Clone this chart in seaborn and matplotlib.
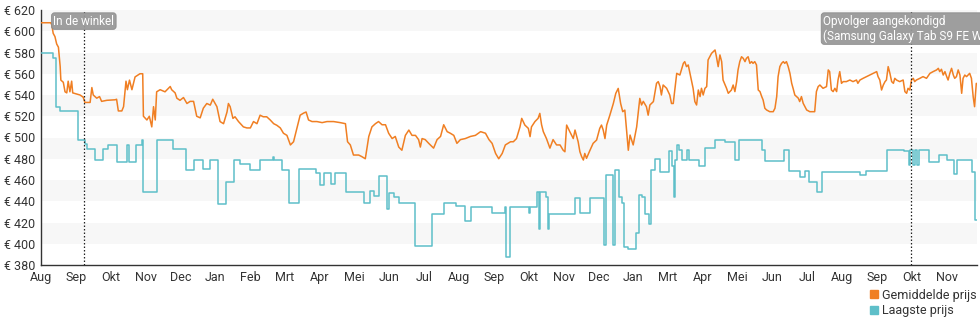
import matplotlib
matplotlib.use("Agg")
import matplotlib.pyplot as plt
from matplotlib.lines import Line2D
import seaborn as sns
import pandas as pd

# Month tick labels (one tick per month slot on the time axis)
month_labels = ["Aug", "Sep", "Okt", "Nov", "Dec", "Jan", "Feb", "Mrt", "Apr", "Mei",
                "Jun", "Jul", "Aug", "Sep", "Okt", "Nov", "Dec", "Jan", "Mrt", "Apr",
                "Mei", "Jun", "Jul", "Aug", "Sep", "Okt", "Nov"]

# Average price (time in month slots since the first tick, price in euro)
avg_t = [0.00, 0.28, 0.31, 0.35, 0.40, 0.45, 0.50, 0.55, 0.57, 0.64, 0.69, 0.74, 0.78, 0.83,
         0.88, 0.91, 1.02, 1.12, 1.21, 1.26, 1.41, 1.46, 1.50, 1.60, 1.68, 1.74, 1.89, 2.13,
         2.17, 2.22, 2.32, 2.37, 2.44, 2.48, 2.54, 2.61, 2.70, 2.84, 2.92, 2.94, 3.04, 3.11,
         3.18, 3.23, 3.28, 3.32, 3.42, 3.56, 3.71, 3.75, 3.85, 3.90, 3.99, 4.09, 4.19, 4.28,
         4.38, 4.47, 4.57, 4.66, 4.76, 4.86, 4.93, 5.05, 5.14, 5.24, 5.34, 5.38, 5.43, 5.51,
         5.57, 5.67, 5.81, 5.91, 6.01, 6.10, 6.20, 6.29, 6.38, 6.48, 6.58, 6.68, 6.77, 6.87,
         6.96, 7.06, 7.16, 7.25, 7.35, 7.44, 7.54, 7.61, 7.68, 7.78, 7.92, 8.07, 8.21, 8.40,
         8.59, 8.74, 8.80, 8.88, 8.97, 9.12, 9.21, 9.31, 9.41, 9.50, 9.60, 9.69, 9.79, 9.89,
         9.98, 10.08, 10.17, 10.27, 10.36, 10.46, 10.56, 10.65, 10.75, 10.84, 10.89, 10.94,
         11.03, 11.13, 11.27, 11.37, 11.47, 11.56, 11.66, 11.75, 11.85, 11.94, 12.04, 12.18,
         12.33, 12.47, 12.62, 12.76, 12.86, 12.95, 13.05, 13.14, 13.24, 13.33, 13.48, 13.56,
         13.65, 13.75, 13.80, 13.89, 13.99, 14.04, 14.08, 14.18, 14.27, 14.32, 14.37, 14.42,
         14.51, 14.61, 14.70, 14.80, 14.90, 14.99, 15.04, 15.09, 15.18, 15.28, 15.33, 15.42,
         15.47, 15.52, 15.57, 15.61, 15.66, 15.76, 15.85, 15.95, 16.04, 16.09, 16.14, 16.19,
         16.24, 16.33, 16.43, 16.50, 16.57, 16.64, 16.70, 16.76, 16.81, 16.86, 16.91, 17.00,
         17.10, 17.19, 17.24, 17.29, 17.38, 17.43, 17.48, 17.58, 17.62, 17.67, 17.72, 17.77,
         17.81, 17.86, 17.96, 18.05, 18.10, 18.15, 18.25, 18.34, 18.44, 18.48, 18.53, 18.58,
         18.63, 18.67, 18.72, 18.77, 18.82, 18.87, 18.92, 18.96, 19.01, 19.06, 19.11, 19.15,
         19.20, 19.25, 19.30, 19.35, 19.39, 19.44, 19.49, 19.54, 19.58, 19.68, 19.73, 19.82,
         19.87, 19.92, 19.97, 20.01, 20.06, 20.11, 20.16, 20.21, 20.25, 20.30, 20.35, 20.40,
         20.44, 20.49, 20.54, 20.59, 20.64, 20.69, 20.73, 20.78, 20.83, 20.92, 21.02, 21.07,
         21.12, 21.16, 21.21, 21.26, 21.31, 21.35, 21.40, 21.45, 21.50, 21.55, 21.59, 21.64,
         21.69, 21.74, 21.78, 21.83, 21.88, 21.93, 21.98, 22.07, 22.21, 22.26, 22.31, 22.36,
         22.45, 22.55, 22.60, 22.64, 22.69, 22.74, 22.79, 22.84, 22.88, 22.93, 22.98, 23.03,
         23.12, 23.22, 23.31, 23.41, 23.45, 23.51, 23.60, 23.70, 23.79, 23.89, 23.99, 24.03,
         24.08, 24.13, 24.18, 24.23, 24.27, 24.32, 24.37, 24.42, 24.47, 24.51, 24.56, 24.65,
         24.75, 24.80, 24.85, 24.89, 24.94, 24.99, 25.04, 25.08, 25.13, 25.23, 25.32, 25.42,
         25.52, 25.61, 25.71, 25.76, 25.80, 25.85, 25.90, 25.95, 26.00, 26.04, 26.09, 26.14,
         26.19, 26.23, 26.28, 26.33, 26.38, 26.43, 26.47, 26.52, 26.57, 26.66, 26.71, 26.76,
         26.80, 26.85]
avg_price = [608, 608, 606, 598, 595, 588, 585, 567, 554, 552, 543, 542, 553, 543,
             553, 542, 541, 540, 538, 533, 533, 547, 540, 537, 538.5, 534, 535, 535.5,
             536, 525, 525, 529, 553, 545, 554, 545, 557, 560, 560, 520, 516.5, 520,
             510, 529, 516.5, 543, 545, 543, 548, 545, 542, 537, 535, 537.6, 532, 534,
             534, 520, 518.5, 527.6, 532, 530.5, 536, 529, 515, 513, 524, 532, 529, 518,
             519.5, 515, 510, 509, 509, 515, 513, 521, 519.5, 519.5, 516.5, 513, 511.5, 509,
             504, 502, 493, 496, 509, 521, 523, 524, 516.5, 515, 515, 514, 515, 515,
             514, 513, 496, 493, 483.5, 483.5, 482, 480, 501, 510, 513, 515, 512, 512,
             504, 499, 501, 491, 488, 502, 507, 502, 502, 498, 491, 499,
             498, 494.5, 490, 498, 501, 512, 505.5, 504, 502, 494.5, 498, 499,
             501, 502, 505.5, 504, 498, 494.5, 485, 480, 485, 493, 496, 496,
             499, 510, 518, 511.7, 508.6, 500.8, 510, 515, 518, 522.7, 512, 505.5,
             499, 490, 498, 493, 493, 488, 486.6, 511.7, 505.5, 499, 507, 496,
             486.6, 482, 478.8, 485, 480.4, 488, 494.5, 497.6, 508.6, 511.7, 507, 499,
             511.7, 521, 532, 541.5, 546.2, 532, 524.3, 525.8, 507, 488, 502.3, 493,
             510, 536.8, 530.6, 534, 529, 521, 530.6, 533.8, 541.6, 551, 552.6, 548,
             540, 549.4, 546.3, 540, 532, 532, 560.4, 558.8, 569.8, 571.4, 566.7, 568.3,
             560.4, 554.1, 546.3, 533.8, 530.6, 544.7, 538.5, 546.3, 540, 546.3, 547.9, 573,
             576, 579.2, 580.8, 582.4, 576, 566.7, 577.7, 571.4, 554.1, 546.3, 541.6, 544.7,
             549.4, 543.2, 552.6, 563.6, 571.4, 576, 574.5, 571.4, 574.5, 576, 569.8, 571.4,
             569.8, 571.4, 568.3, 544.7, 543.2, 538.5, 535.3, 527.5, 525.9, 524.3, 524.3, 527.5,
             538.5, 557.3, 566.7, 569.8, 571.4, 569.8, 571.4, 566.7, 560.4, 551, 546.3, 540,
             538.5, 537, 533.8, 538.5, 532.2, 529, 525.9, 524.3, 524.3, 543.2, 547.9, 549.4,
             546.3, 547.9, 563.6, 562, 544.7, 543.2, 546.3, 543.2, 554.1, 562, 551, 552.6,
             552.6, 554.1, 552.6, 554.1, 551, 554.1, 555.7, 557.3, 558.8, 560.4, 562, 557.3,
             554.1, 544.7, 549.4, 552.6, 554.1, 566.7, 560.4, 552.6, 551, 555.7, 554.1, 552.6,
             554.1, 543.2, 541.6, 546.3, 544.7, 554.1, 555.7, 552.6, 554.1, 555.7, 557.3, 555.7,
             560.4, 562, 563.6, 565.1, 562, 564.2, 558.8, 562, 557.3, 554.1, 560.4, 565.1,
             558.8, 555.7, 557.3, 563.6, 558.8, 541.6, 555.7, 558.8, 557.3, 560.4, 555.7, 538.5,
             529, 551]

# Lowest price: each entry is the moment the price changed and the new price
low_t = [0.00, 0.34, 0.43, 0.55, 1.07, 1.25, 1.31, 1.55, 1.77, 1.93, 2.17, 2.48, 2.52, 2.72,
         2.89, 2.94, 3.32, 3.80, 4.16, 4.40, 4.64, 4.86, 5.08, 5.32, 5.53, 5.72, 5.99, 6.29,
         6.66, 6.70, 6.92, 7.11, 7.42, 7.90, 8.02, 8.11, 8.32, 8.45, 8.75, 9.26, 9.45, 9.55,
         9.69, 9.93, 9.98, 10.12, 10.27, 10.75, 11.23, 11.56, 11.90, 12.18, 12.35, 12.95,
         13.33, 13.36, 13.47, 14.00, 14.05, 14.24, 14.29, 14.32, 14.50, 14.56, 14.59, 15.32,
         15.48, 15.77, 16.15, 16.22, 16.41, 16.49, 16.58, 16.68, 16.73, 16.85, 17.08, 17.16,
         17.25, 17.35, 17.44, 17.52, 17.64, 17.78, 18.02, 18.11, 18.16, 18.19, 18.26, 18.31,
         18.40, 18.55, 18.59, 18.88, 19.07, 19.36, 19.65, 19.93, 20.03, 20.70, 20.79, 21.32,
         21.46, 21.80, 21.94, 22.04, 22.28, 22.42, 23.52, 23.67, 24.29, 24.77, 24.91, 24.96,
         25.02, 25.08, 25.15, 25.20, 25.39, 25.49, 25.78, 26.01, 26.20, 26.30, 26.73, 26.82,
         26.87]
low_price = [580, 575, 529, 525, 498, 494, 489, 479, 489, 493, 477, 493, 477, 493,
             498, 449, 498, 489, 469, 479, 470, 479, 437, 458, 479, 475, 469, 479,
             482, 479, 469, 438, 470, 467, 455, 467, 456, 467, 449, 438, 450, 445,
             464, 433, 448, 444, 438, 398, 428, 438, 436, 421, 435, 429,
             435, 388, 435, 429, 435, 449, 414, 449, 444, 414, 428, 443,
             429, 443, 399, 465, 399, 469, 444, 438, 397, 395, 410, 446,
             444, 428, 419, 469, 480, 468, 487, 473, 444, 479, 493, 488,
             479, 488, 479, 473, 490, 498, 496, 479, 498, 488, 478, 488,
             468.5, 463, 468.5, 458.5, 449, 468, 465, 468.5, 488, 487, 474, 488,
             474, 488, 474, 488, 488, 477, 484, 479, 466, 479, 468, 422,
             422]

# Events marked with a dotted line and a label
event_t = [1.23, 24.97]
event_text = ["In de winkel", "Opvolger aangekondigd\n(Samsung Galaxy Tab S9 FE WiFi)"]

avg_color = "#f07f23"
low_color = "#5ebfc9"
text_color = "#333333"

sns.set_style("white")
plt.rcParams["font.family"] = ["Roboto", "DejaVu Sans"]

fig = plt.figure(figsize=(9.8, 3.25), dpi=100)
ax = fig.add_axes([41 / 980, 1 - 265 / 325, 936 / 980, 255 / 325])

# Alternating light bands behind the data
for lo in range(400, 620, 40):
    ax.axhspan(lo, lo + 20, color="#f7f7f7", zorder=0, lw=0)

avg_df = pd.DataFrame({"t": avg_t, "price": avg_price})
low_df = pd.DataFrame({"t": low_t, "price": low_price})

sns.lineplot(data=avg_df, x="t", y="price", ax=ax, color=avg_color, lw=1.1,
             estimator=None, sort=False, zorder=3)
sns.lineplot(data=low_df, x="t", y="price", ax=ax, color=low_color, lw=1.1,
             estimator=None, sort=False, drawstyle="steps-post", zorder=3)

ax.set_xlim(0, 26.87)
ax.set_ylim(380, 620)
ax.set_xticks(range(len(month_labels)))
ax.set_xticklabels(month_labels)
yt = list(range(380, 621, 20))
ax.set_yticks(yt)
ax.set_yticklabels([f"€ {v}" for v in yt])
ax.set_xlabel("")
ax.set_ylabel("")

ax.tick_params(axis="both", direction="inout", length=5, width=1, color=text_color,
               labelsize=9, labelcolor=text_color, pad=1.5)
for side in ("top", "right"):
    ax.spines[side].set_visible(False)
for side in ("left", "bottom"):
    ax.spines[side].set_color(text_color)
    ax.spines[side].set_linewidth(1)

for t, txt in zip(event_t, event_text):
    ax.axvline(t, color="#222222", lw=0.9, ls=(0, (1.2, 1.6)), zorder=4)
    ax.text(t, 0.982, txt, transform=ax.get_xaxis_transform(), ha="center", va="top",
            multialignment="left", fontsize=8.5, color="white", zorder=5,
            linespacing=1.15,
            bbox=dict(boxstyle="round,pad=0.15,rounding_size=0.25", fc="#999999",
                      ec="#8a8a8a", lw=0.6, alpha=0.95))

handles = [Line2D([], [], marker="s", ls="", color=avg_color, markersize=5.5),
           Line2D([], [], marker="s", ls="", color=low_color, markersize=5.5)]
fig.legend(handles, ["Gemiddelde prijs", "Laagste prijs"], loc="upper right",
           bbox_to_anchor=(0.997, 0.112), frameon=False, fontsize=9,
           handlelength=0.6, handletextpad=0.35, labelspacing=0.2, borderpad=0,
           borderaxespad=0, labelcolor=text_color)

fig.savefig("out.png", dpi=100)
